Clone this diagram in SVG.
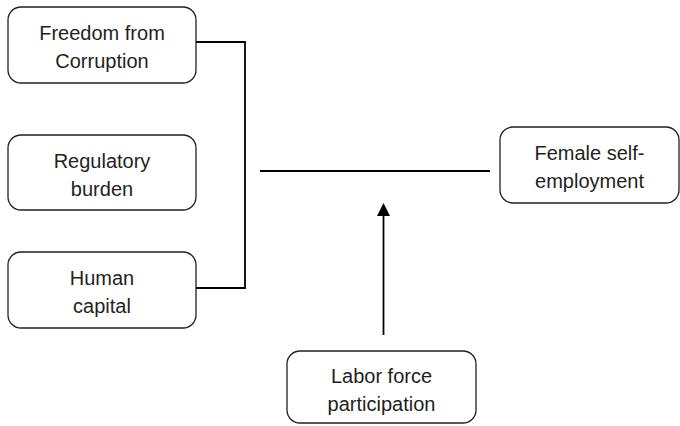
<svg xmlns="http://www.w3.org/2000/svg" width="680" height="426" viewBox="0 0 680 426">
<style>
.box{fill:#fff;stroke:#231f20;stroke-width:1.3}
.lbl{font-family:"Liberation Sans",Arial,sans-serif;font-size:20px;fill:#231f20;text-anchor:middle}
.ln{fill:none;stroke:#000;stroke-width:1.8}
</style>
<rect width="680" height="426" fill="#fff"/>
<g id="connectors">
<path class="ln" d="M196 42 H245 V288 H196"/>
<path class="ln" d="M260 171 H490"/>
<path class="ln" d="M383.5 335 V216"/>
<path d="M383.5 203 L390 216 L377 216 Z" fill="#000"/>
</g>
<g id="n1">
<rect class="box" x="8" y="7" width="188" height="76" rx="13"/>
<text class="lbl" x="102" y="39.5">Freedom from</text>
<text class="lbl" x="102" y="67.5">Corruption</text>
</g>
<g id="n2">
<rect class="box" x="8" y="135" width="188" height="75" rx="13"/>
<text class="lbl" x="102" y="167.5">Regulatory</text>
<text class="lbl" x="102" y="195.5">burden</text>
</g>
<g id="n3">
<rect class="box" x="8" y="252" width="188" height="76" rx="13"/>
<text class="lbl" x="102" y="284.5">Human</text>
<text class="lbl" x="102" y="312.5">capital</text>
</g>
<g id="n4">
<rect class="box" x="500" y="127" width="179" height="76" rx="13"/>
<text class="lbl" x="589.5" y="159.5">Female self-</text>
<text class="lbl" x="589.5" y="187.5">employment</text>
</g>
<g id="n5">
<rect class="box" x="287" y="351" width="189" height="72" rx="13"/>
<text class="lbl" x="381.5" y="382.5">Labor force</text>
<text class="lbl" x="381.5" y="410.5">participation</text>
</g>
</svg>
